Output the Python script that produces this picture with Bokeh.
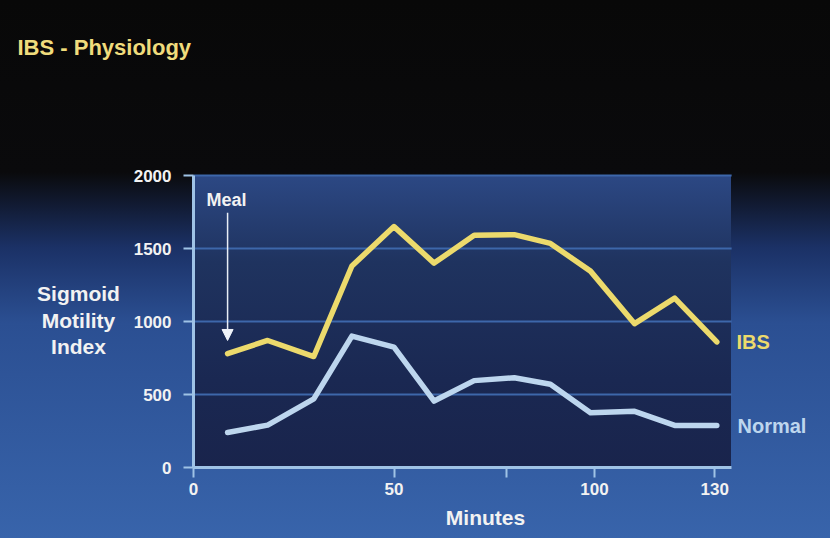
from bokeh.plotting import figure
from bokeh.models import Range1d, FixedTicker, Label, Arrow, NormalHead
from bokeh.embed import file_html
from bokeh.resources import INLINE

# ---- data ----
minutes = [8.5, 18.5, 30, 39.5, 50, 60, 70, 80, 89, 99, 110, 120, 130.5]
ibs = [780, 870, 760, 1380, 1650, 1400, 1590, 1595, 1535, 1345, 985, 1160, 860]
normal = [240, 290, 470, 900, 825, 455, 595, 615, 570, 375, 385, 288, 288]
x_ticks = [0, 50, 78, 100, 130]
x_tick_labels = {0: "0", 50: "50", 78: "", 100: "100", 130: "130"}
y_ticks = [0, 500, 1000, 1500, 2000]
title_text = "IBS - Physiology"
y_label_lines = ["Sigmoid", "Motility", "Index"]
x_label = "Minutes"
series_names = ["IBS", "Normal"]
meal_text = "Meal"
meal_x = 8.5
meal_y_start = 1745
meal_y_end = 870

# plotted area (data) and the whole canvas expressed in data units
X_MAX, Y_MAX = 134.2, 2000
PX_PER_X, PX_PER_Y = 4.01, 0.146
LEFT_PX, BOTTOM_PX, W, H = 193, 71, 830, 538

FONT = "Liberation Sans"
YELLOW = "#ecda6c"
LIGHTBLUE = "#bdd6ee"
AXIS = "#9fc3e6"
GRID = "#3d67aa"
WHITE = "#f2f2f2"

x_range = Range1d(-LEFT_PX / PX_PER_X, (W - LEFT_PX) / PX_PER_X)
y_range = Range1d(-BOTTOM_PX / PX_PER_Y, (H - BOTTOM_PX) / PX_PER_Y)

p = figure(width=W, height=H, output_backend="svg", toolbar_location=None,
           x_range=x_range, y_range=y_range, min_border=0,
           min_border_left=0, min_border_right=0, min_border_top=0, min_border_bottom=0)
p.border_fill_color = None
p.background_fill_color = None
p.outline_line_color = None
p.styles = {
    "background": (
        "linear-gradient(to bottom, #2c4884 0%, #1f335f 30%, #1a2852 70%, #19244c 100%) 193px 175px / 538px 292px no-repeat, "
        "linear-gradient(to bottom, #080808 0%, #0a0a0c 32%, #1b3166 46%, #2b4f92 60%, #3864ab 100%)"
    )
}

# grid lines, limited to the plotted area
p.xgrid.grid_line_color = None
p.ygrid.grid_line_color = None
gy = [t for t in y_ticks if t > 0]
p.segment(x0=[0] * len(gy), y0=gy, x1=[X_MAX] * len(gy), y1=gy, line_color=GRID, line_width=2)

# axes fixed at the data origin
for ax in (p.xaxis, p.yaxis):
    ax.fixed_location = 0
    ax.axis_line_color = AXIS
    ax.axis_line_width = 3
    ax.major_tick_line_color = AXIS
    ax.major_tick_line_width = 2
    ax.major_tick_in = 0
    ax.major_tick_out = 10
    ax.minor_tick_line_color = None
    ax.major_label_text_font = FONT
    ax.major_label_text_font_style = "bold"
    ax.major_label_text_font_size = "17px"
    ax.major_label_text_color = WHITE

p.xaxis.bounds = (0, X_MAX)
p.xaxis.ticker = FixedTicker(ticks=x_ticks)
p.xaxis.major_label_overrides = x_tick_labels
p.xaxis.major_label_standoff = 5
p.yaxis.bounds = (0, Y_MAX)
p.yaxis.ticker = FixedTicker(ticks=y_ticks)
p.yaxis.major_label_standoff = 12

# series
p.line(minutes, normal, line_color=LIGHTBLUE, line_width=5.5, line_join="round", line_cap="round")
p.line(minutes, ibs, line_color=YELLOW, line_width=5.5, line_join="round", line_cap="round")

# meal arrow
p.add_layout(Arrow(x_start=meal_x, y_start=meal_y_start, x_end=meal_x, y_end=meal_y_end,
                   line_color="#e8eef6", line_width=1.5,
                   end=NormalHead(size=11, fill_color="#f0f4fa", line_color="#f0f4fa")))


def px_label(px, py, text, size, color, align="left"):
    # px, py: position in canvas pixels (from top-left), converted to data units
    p.add_layout(Label(x=(px - LEFT_PX) / PX_PER_X, y=(H - BOTTOM_PX - py) / PX_PER_Y, text=text,
                       text_align=align, text_baseline="middle",
                       text_font=FONT, text_font_style="bold", text_font_size=size,
                       text_color=color))


px_label(226, 199, meal_text, "18px", WHITE, align="center")
px_label(17, 47, title_text, "22px", "#f0dc7c")
for txt, yy in zip(y_label_lines, [293, 320, 346]):
    px_label(78, yy, txt, "21px", WHITE, align="center")
px_label(485, 517, x_label, "21px", WHITE, align="center")
px_label(736, 341, series_names[0], "20px", YELLOW)
px_label(737, 425, series_names[1], "20px", LIGHTBLUE)

open("out.html", "w").write(file_html(p, INLINE))
